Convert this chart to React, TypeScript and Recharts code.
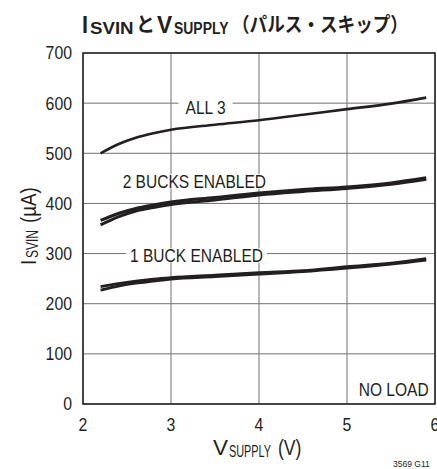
import {
  LineChart, Line,
  XAxis, YAxis, CartesianGrid,
  ReferenceArea,
} from "recharts";

// supply voltage (V) where each curve was sampled
const VSUPPLY = [2.2, 2.4, 2.6, 2.8, 3.0, 3.5, 4.0, 4.5, 5.0, 5.5, 5.9];

// ISVIN (µA), pulse-skip, no load
const ALL3       = [500, 518, 531, 540, 547, 557, 566, 577, 588, 599, 611];
const BUCKS2_HI  = [366, 380, 390, 397, 403, 412, 421, 428, 433, 441, 451];
const BUCKS2_LO  = [357, 373, 385, 392, 398, 407, 417, 424, 430, 438, 448];
const BUCK1_HI   = [234, 240, 245, 249, 252, 257, 262, 266, 274, 281, 290];
const BUCK1_LO   = [227, 235, 241, 245, 249, 254, 259, 264, 271, 279, 287];

const X_TICKS = [2, 3, 4, 5, 6];
const Y_TICKS = [0, 100, 200, 300, 400, 500, 600, 700];

const rows = VSUPPLY.map((v, i) => ({
  v,
  all3: ALL3[i],
  b2hi: BUCKS2_HI[i],
  b2lo: BUCKS2_LO[i],
  b1hi: BUCK1_HI[i],
  b1lo: BUCK1_LO[i],
}));

const INK = "#231f20";
const SANS = "'Liberation Sans', Arial, sans-serif";
const CJK = "'Noto Sans CJK JP', sans-serif";

// condensed look: Liberation Sans squeezed horizontally
const XTick = ({ x, y, payload }: any) => (
  <g transform={`translate(${x},${y}) scale(0.88,1)`}>
    <text textAnchor="middle" dy="0.71em" fill={INK}
      fontFamily={SANS} fontSize={18}>{payload.value}</text>
  </g>
);

const YTick = ({ x, y, payload }: any) => (
  <g transform={`translate(${x},${y}) scale(0.88,1)`}>
    <text textAnchor="end" dy="0.355em" fill={INK}
      fontFamily={SANS} fontSize={18}>{payload.value}</text>
  </g>
);

// centred curve label in the same squeezed face
const curveLabel = (text: string) => (props: any) => {
  const { x, y, width, height } = props.viewBox;
  return (
    <g transform={`translate(${x + width / 2},${y + height / 2}) scale(0.84,1)`}>
      <text dy="0.355em" textAnchor="middle" fill={INK}
        fontFamily={SANS} fontSize={18.5}>{text}</text>
    </g>
  );
};

// text piece placed at (x, y) and squeezed by sx
const Piece = ({ x, y, sx, children, ...rest }: any) => (
  <g transform={`translate(${x},${y}) scale(${sx},1)`}>
    <text {...rest}>{children}</text>
  </g>
);

export default function App() {
  return (
    <div style={{
      position: "absolute", left: 0, top: 0,
      width: 437, height: 469, background: "#fff", overflow: "hidden",
    }}>
      <LineChart width={437} height={469} data={rows}
        margin={{ top: 53, right: 2, bottom: 0, left: 0 }}>
        <CartesianGrid stroke="#707070" strokeWidth={1} />
        <XAxis type="number" dataKey="v" domain={[2, 6]} ticks={X_TICKS}
          height={65} tickSize={0} tickMargin={14} axisLine={false}
          tick={XTick} interval={0} />
        <YAxis type="number" domain={[0, 700]} ticks={Y_TICKS}
          width={83} tickSize={0} tickMargin={11} axisLine={false}
          tick={YTick} interval={0} />

        {/* plot frame */}
        <ReferenceArea x1={2} x2={6} y1={0} y2={700}
          fill="none" stroke={INK} strokeWidth={1.5} />

        {/* curve labels on white boxes that break the grid */}
        <ReferenceArea x1={3.085} x2={3.7} y1={577} y2={605}
          fill="#fff" fillOpacity={1} stroke="none"
          label={curveLabel("ALL 3")} />
        <ReferenceArea x1={2.45} x2={4.08} y1={430} y2={458}
          fill="#fff" fillOpacity={1} stroke="none"
          label={curveLabel("2 BUCKS ENABLED")} />
        <ReferenceArea x1={2.49} x2={4.09} y1={282} y2={310}
          fill="#fff" fillOpacity={1} stroke="none"
          label={curveLabel("1 BUCK ENABLED")} />
        <ReferenceArea x1={5.12} x2={5.94} y1={12} y2={46}
          fill="#fff" fillOpacity={1} stroke="none"
          label={curveLabel("NO LOAD")} />

        <Line type="monotone" dataKey="all3" stroke={INK} strokeWidth={2.6}
          dot={false} isAnimationActive={false} />
        <Line type="monotone" dataKey="b2hi" stroke={INK} strokeWidth={3}
          dot={false} isAnimationActive={false} />
        <Line type="monotone" dataKey="b2lo" stroke={INK} strokeWidth={3}
          dot={false} isAnimationActive={false} />
        <Line type="monotone" dataKey="b1hi" stroke={INK} strokeWidth={2.8}
          dot={false} isAnimationActive={false} />
        <Line type="monotone" dataKey="b1lo" stroke={INK} strokeWidth={2.8}
          dot={false} isAnimationActive={false} />
      </LineChart>

      {/* title, axis titles and figure number */}
      <svg width={437} height={469}
        style={{ position: "absolute", left: 0, top: 0, pointerEvents: "none" }}>
        <g fill={INK} fontWeight="bold">
          <Piece x={82} y={33} sx={0.9} fontFamily={SANS} fontSize={24}>I</Piece>
          <Piece x={90} y={34} sx={1.1} fontFamily={SANS} fontSize={17}>SVIN</Piece>
          <Piece x={136} y={32} sx={0.95} fontFamily={CJK} fontSize={20}>と</Piece>
          <Piece x={157} y={33} sx={0.95} fontFamily={SANS} fontSize={24}>V</Piece>
          <Piece x={174} y={34} sx={0.82} fontFamily={SANS} fontSize={17}>SUPPLY</Piece>
          <Piece x={232} y={32} sx={0.88} fontFamily={CJK} fontSize={20}>（パルス・スキップ）</Piece>
        </g>

        <g fill={INK} fontFamily={SANS}>
          <Piece x={213} y={455} sx={1.02} fontSize={22}>V</Piece>
          <Piece x={229} y={457} sx={0.68} fontSize={16}>SUPPLY</Piece>
          <Piece x={278} y={455} sx={0.8} fontSize={22}>(V)</Piece>
        </g>

        <g fill={INK} fontFamily={SANS} transform="translate(36,265) rotate(-90)">
          <Piece x={0} y={0} sx={0.85} fontSize={22}>I</Piece>
          <Piece x={7} y={1.5} sx={0.75} fontSize={16}>SVIN</Piece>
          <Piece x={42} y={0} sx={0.85} fontSize={22}>(µA)</Piece>
        </g>

        <Piece x={393} y={467} sx={0.95} fill={INK} fontFamily={SANS}
          fontSize={9}>3569 G11</Piece>
      </svg>
    </div>
  );
}
